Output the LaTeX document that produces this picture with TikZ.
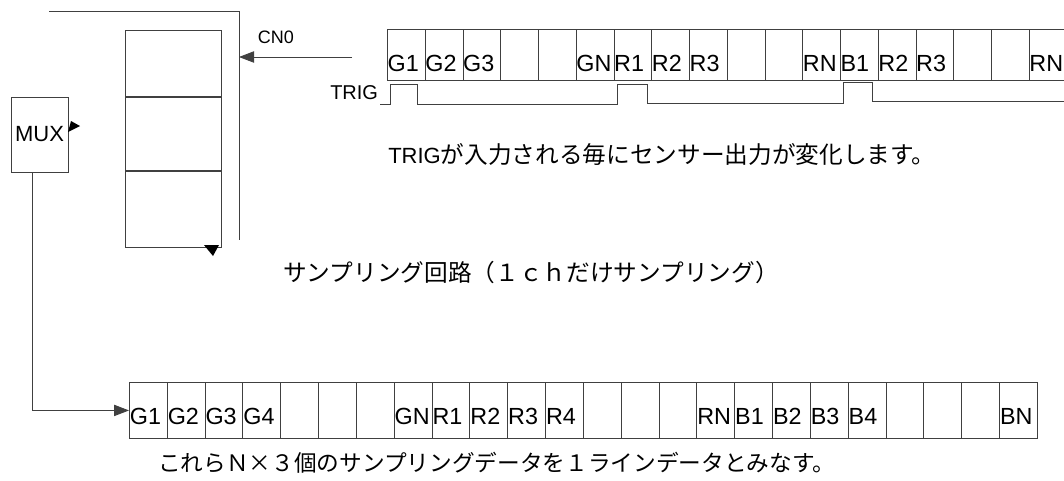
\documentclass[tikz,border=0pt]{standalone}
\usepackage{fontspec}
\setmainfont{Liberation Sans}
\newfontfamily\jp{Noto Sans CJK JP}
\usetikzlibrary{arrows.meta}
\begin{document}
\begin{tikzpicture}[x=0.75pt,y=-0.75pt,
  ln/.style={draw=black!75, line width=0.65pt},
  arr/.style={-{Triangle[length=11.25pt,width=8.5pt]}},
  topcell/.style={ln, minimum width=28.31pt, minimum height=38.25pt, inner sep=0, anchor=north west},
  botcell/.style={ln, minimum width=28.37pt, minimum height=42pt, inner sep=0, anchor=north west},
  sampcell/.style={ln, minimum width=72pt, inner sep=0, anchor=north west},
  lab/.style={font=\fontsize{17.5}{17.5}\selectfont, inner sep=0, anchor=base west},
  jptext/.style={font=\jp\fontsize{17.75}{17.75}\selectfont, inner sep=0, anchor=west},
  head/.style={fill=black, draw=none}
]
\clip (0,0) rectangle (1064,480);
\fill[white] (0,0) rectangle (1064,480);

% outer frame of sampling circuit
\coordinate (of1) at (49,11);
\coordinate (of2) at (239,11);
\coordinate (of3) at (239,240);
\draw[ln] (of1) -- (of2) -- (of3);

% sampling circuit cells
\node[sampcell, minimum height=49.5pt] (s1) at (125,30) {};
\node[sampcell, minimum height=54.75pt] (s2) at (s1.south west) {};
\node[sampcell, minimum height=57pt] (s3) at (s2.south west) {};
\fill[head] (204,245) -- (219,245) -- (213,256) -- cycle;

% CN0 input arrow
\node[font=\fontsize{13.5}{13.5}\selectfont, inner sep=0] (cn0) at (276,37) {CN0};
\coordinate (cnsrc) at (352,57);
\draw[ln, arr] (cnsrc) -- (cnsrc -| of2);

% MUX
\node[ln, minimum width=42.75pt, minimum height=56.25pt, inner sep=0,
      font=\fontsize{16.5}{16.5}\selectfont] (mux) at (39.5,134.5) {\raisebox{-3.5pt}{MUX}};
\fill[head] (71,121) -- (80,126) -- (68,132) -- cycle;

% top data row
\foreach \i in {1,...,18}
  \node[topcell] (t\i) at ({387+(\i-1)*37.75},29) {};
\foreach \i/\t in {1/G1,2/G2,3/G3,6/GN,7/R1,8/R2,9/R3,12/RN,13/B1,14/R2,15/R3,18/RN}
  \node[lab] (tl\i) at ([xshift=0.3pt,yshift=6.75pt]t\i.south west) {\t};

% TRIG waveform
\node[font=\fontsize{15}{15}\selectfont, inner sep=0, anchor=base west] (trig) at (330,99) {TRIG};
\draw[ln] (380,104) -- (390,104) -- (390,84) -- (417,84) -- (417,104)
  -- (617,104) -- (617,84) -- (647,84) -- (647,103)
  -- (843,103) -- (843,82) -- (872,82) -- (872,101) -- (1064,101);

\node[jptext] (cap1) at (388,154) {{\rmfamily\fontsize{16.5}{16.5}\selectfont TRIG}が入力される毎にセンサー出力が変化します。};
\node[jptext] (cap2) at (283,272) {サンプリング回路（１ｃｈだけサンプリング）};

% bottom data row
\foreach \i in {1,...,24}
  \node[botcell] (b\i) at ({129+(\i-1)*37.83},382) {};
\foreach \i/\t in {1/G1,2/G2,3/G3,4/G4,8/GN,9/R1,10/R2,11/R3,12/R4,16/RN,17/B1,18/B2,19/B3,20/B4,24/BN}
  \node[lab] (bl\i) at ([xshift=0.5pt,yshift=10.5pt]b\i.south west) {\t};

% MUX to line data
\draw[ln, arr] ([xshift=-5.6pt]mux.south) |- (b1.west);

\node[jptext, font=\jp\fontsize{17}{17}\selectfont] (cap3) at (158,463) {これらＮ×３個のサンプリングデータを１ラインデータとみなす。};
\end{tikzpicture}
\end{document}
